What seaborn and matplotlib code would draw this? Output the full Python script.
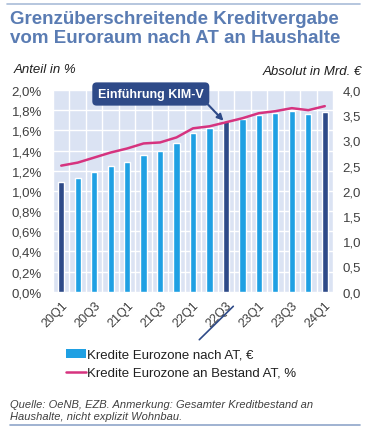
import numpy as np
import matplotlib
matplotlib.use("Agg")
import matplotlib.pyplot as plt
import seaborn as sns
from matplotlib.patches import Patch
from matplotlib.lines import Line2D
from matplotlib.ticker import FuncFormatter, FixedLocator

# =========================
# Data
# =========================
quarters = ['20Q1', '20Q2', '20Q3', '20Q4',
            '21Q1', '21Q2', '21Q3', '21Q4',
            '22Q1', '22Q2', '22Q3', '22Q4',
            '23Q1', '23Q2', '23Q3', '23Q4', '24Q1']

# Kredite Eurozone nach AT, Mrd. EUR (right axis)
credit_bn = [2.17, 2.26, 2.38, 2.49, 2.57, 2.71, 2.79, 2.94, 3.15,
             3.24, 3.38, 3.43, 3.51, 3.55, 3.58, 3.53, 3.57]

# Kredite Eurozone an Bestand AT, % (left axis)
share_pct = [1.25, 1.28, 1.33, 1.38, 1.42, 1.47, 1.48, 1.53, 1.62,
             1.64, 1.68, 1.72, 1.77, 1.79, 1.82, 1.80, 1.84]

highlight = ['20Q1', '22Q3', '24Q1']

left_ticks = [0.0, 0.2, 0.4, 0.6, 0.8, 1.0, 1.2, 1.4, 1.6, 1.8, 2.0]
right_ticks = [0.0, 0.5, 1.0, 1.5, 2.0, 2.5, 3.0, 3.5, 4.0]

# =========================
# Style
# =========================
LIGHT = '#1fa0e3'
DARK = '#2e4a88'
PINK = '#d6337f'
BG = '#dbe3f3'
TXT = '#404040'
TITLE = '#5a7cb3'

sns.set_style("white")
plt.rcParams['font.family'] = ['Liberation Sans', 'DejaVu Sans']

fig = plt.figure(figsize=(3.7, 4.35), dpi=100)
ax = fig.add_axes([53 / 370, 1 - 292.7 / 435, 280 / 370, (292.7 - 91) / 435])
ax.set_facecolor(BG)

# =========================
# Bars (right scale 0..4)
# =========================
palette = {q: (DARK if q in highlight else LIGHT) for q in quarters}
sns.barplot(x=quarters, y=credit_bn, hue=quarters, palette=palette,
            legend=False, width=0.38, saturation=1, ax=ax, zorder=3)
ax.set_ylim(0, 4.0)
ax.set_xlim(-0.5, len(quarters) - 0.5)

# grid: horizontal at every 0.2 % (= 0.4 Mrd), vertical at category borders
ax.yaxis.set_major_locator(FixedLocator([t * 2 for t in left_ticks]))
ax.set_yticklabels([])
ax.tick_params(axis='y', length=0)
ax.xaxis.set_minor_locator(FixedLocator(np.arange(-0.5, len(quarters), 1)))
ax.grid(which='major', axis='y', color='white', lw=1.0, zorder=0)
ax.grid(which='minor', axis='x', color='white', lw=1.0, zorder=0)
ax.set_axisbelow(True)
for s in ax.spines.values():
    s.set_visible(False)

ax.set_xticks(range(0, len(quarters), 2))
ax.set_xticklabels(quarters[::2], rotation=45, ha='right',
                   rotation_mode='anchor', fontsize=9, color=TXT)
ax.tick_params(axis='x', which='both', length=0, pad=5)
ax.set_xlabel('')
ax.set_ylabel('')

# right axis labels
sec = ax.secondary_yaxis('right')
sec.set_yticks(right_ticks)
sec.yaxis.set_major_formatter(FuncFormatter(lambda v, p: f"{v:.1f}".replace('.', ',')))
sec.tick_params(length=0, pad=7, labelsize=9.5, labelcolor=TXT)
sec.spines['right'].set_visible(False)

# =========================
# Line (left scale, %)
# =========================
ax2 = ax.twinx()
sns.lineplot(x=np.arange(len(quarters)), y=share_pct, color=PINK,
             lw=1.8, ax=ax2, zorder=5)
ax2.set_ylim(0, 2.0)
ax2.yaxis.set_ticks_position('left')
ax2.yaxis.set_label_position('left')
ax2.set_yticks(left_ticks)
ax2.yaxis.set_major_formatter(FuncFormatter(lambda v, p: f"{v:.1f}%".replace('.', ',')))
ax2.tick_params(axis='y', length=0, pad=8, labelsize=9.5, labelcolor=TXT)
for s in ax2.spines.values():
    s.set_visible(False)
ax2.set_ylabel('')

# =========================
# Annotation KIM-V
# =========================
kim = quarters.index('22Q3')
ax2.annotate('Einführung KIM-V',
             xy=(kim - 0.15, credit_bn[kim] / 2 + 0.005), xycoords='data',
             xytext=(150.8 / 370, 1 - 95 / 435), textcoords='figure fraction',
             ha='center', va='center', fontsize=9, fontweight='bold', color='white',
             bbox=dict(boxstyle='round,pad=0.45,rounding_size=0.35', fc=DARK, ec='none'),
             arrowprops=dict(arrowstyle='-|>', color=DARK, lw=1.5, mutation_scale=9,
                             relpos=(1, 0), shrinkA=0, shrinkB=0),
             annotation_clip=False, zorder=10)

# diagonal mark under 22Q3 label
fig.add_artist(Line2D([199.3 / 370, 233.3 / 370], [1 - 340.7 / 435, 1 - 307.3 / 435],
                      color=DARK, lw=1.2, transform=fig.transFigure))

# =========================
# Texts
# =========================
fig.text(10 / 370, 1 - 29 / 435,
         'Grenzüberschreitende Kreditvergabe\nvom Euroraum nach AT an Haushalte',
         ha='left', va='center', fontsize=13.5, fontweight='bold', color=TITLE,
         linespacing=1.15)
fig.text(14 / 370, 1 - 70 / 435, 'Anteil in %', ha='left', va='center',
         fontsize=9.5, style='italic', color='#202020')
fig.text(362 / 370, 1 - 72 / 435, 'Absolut in Mrd. €', ha='right', va='center',
         fontsize=9.5, style='italic', color='#202020')
fig.text(10 / 370, 1 - 411 / 435,
         'Quelle: OeNB, EZB. Anmerkung: Gesamter Kreditbestand an\nHaushalte, nicht explizit Wohnbau.',
         ha='left', va='center', fontsize=8, style='italic', color='#404040',
         linespacing=1.2)

# frame lines top and bottom
fig.add_artist(Line2D([7 / 370, 360 / 370], [1 - 5 / 435, 1 - 5 / 435],
                      color='#a9bcd8', lw=1.2, transform=fig.transFigure))
fig.add_artist(Line2D([10 / 370, 360 / 370], [1 - 426 / 435, 1 - 426 / 435],
                      color='#8fa6c9', lw=1.2, transform=fig.transFigure))

# =========================
# Legend
# =========================
handles = [Patch(facecolor=LIGHT, edgecolor='none'),
           Line2D([0], [0], color=PINK, lw=1.8)]
labels = ['Kredite Eurozone nach AT, €', 'Kredite Eurozone an Bestand AT, %']
fig.legend(handles, labels, loc='upper left', bbox_to_anchor=(66 / 370, 1 - 350 / 435),
           frameon=False, fontsize=9.5, handlelength=1.5, handleheight=0.6,
           handletextpad=0.1, labelspacing=0.45, borderaxespad=0, borderpad=0,
           labelcolor='#202020')

fig.savefig('out.png', dpi=100)
